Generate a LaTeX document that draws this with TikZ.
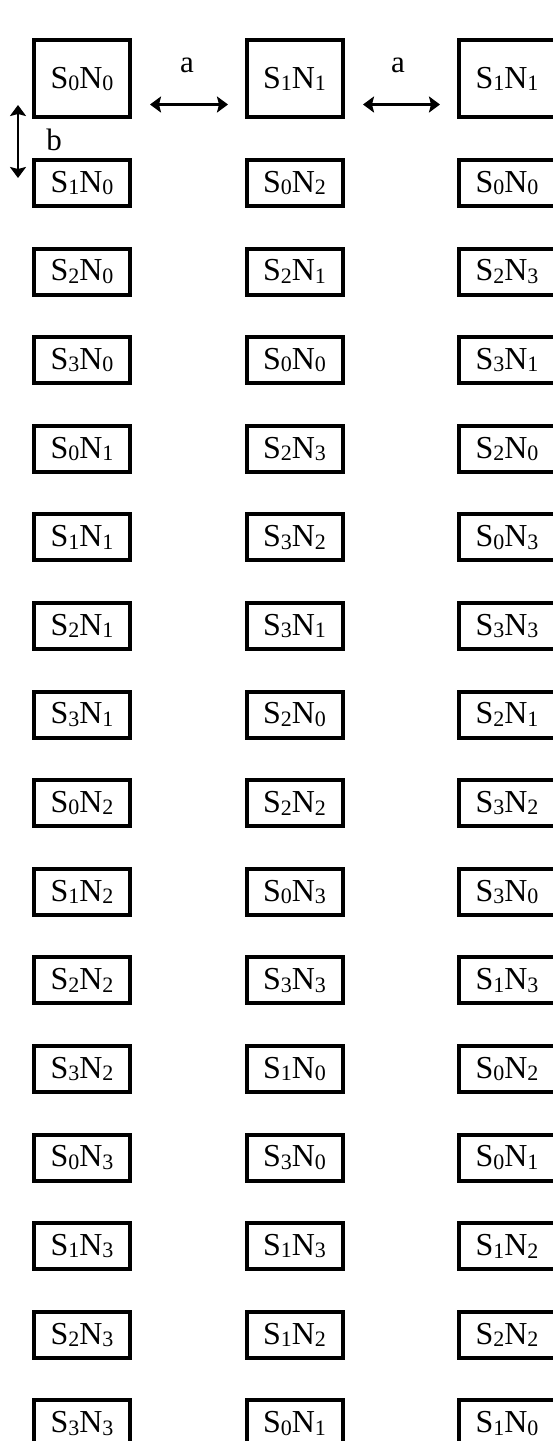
\documentclass[tikz,border=0pt]{standalone}
\usepackage{fontspec}
\setmainfont{Liberation Serif}
\usetikzlibrary{arrows.meta}
\newcommand{\snsub}[1]{\raisebox{-2.5pt}{\fontsize{22}{22}\selectfont #1}}
\newcommand{\snlab}[2]{S\snsub{#1}N\snsub{#2}}
\begin{document}
\begin{tikzpicture}[x=1pt,y=1pt,
  cell/.style={draw,line width=4pt,minimum width=96pt,minimum height=46pt,inner sep=0pt,font=\fontsize{32}{36}\selectfont},
  tallcell/.style={cell,minimum height=77pt,text depth=2pt},
  tip/.tip={Stealth[length=11pt,width=16pt,inset=2pt]},
  dbl/.style={tip-tip,line width=2.5pt},
  lab/.style={font=\fontsize{31}{36}\selectfont,inner sep=0pt}]
\useasboundingbox (0,0) rectangle (553,-1441);
% first row (tall boxes)
\node[tallcell] (c1r1) at (82,-78.5) {\snlab{0}{0}};
\node[tallcell] (c2r1) at (294.5,-78.5) {\snlab{1}{1}};
\node[tallcell] (c3r1) at (507,-78.5) {\snlab{1}{1}};
% column 1
\foreach [count=\r from 2] \p/\q in {1/0,2/0,3/0,0/1,1/1,2/1,3/1,0/2,1/2,2/2,3/2,0/3,1/3,2/3,3/3}{
  \node[cell] (c1r\r) at (82,{-(183+(\r-2)*88.6)}) {\snlab{\p}{\q}};
}
% column 2
\foreach [count=\r from 2] \p/\q in {0/2,2/1,0/0,2/3,3/2,3/1,2/0,2/2,0/3,3/3,1/0,3/0,1/3,1/2,0/1}{
  \node[cell] (c2r\r) at (294.5,{-(183+(\r-2)*88.6)}) {\snlab{\p}{\q}};
}
% column 3
\foreach [count=\r from 2] \p/\q in {0/0,2/3,3/1,2/0,0/3,3/3,2/1,3/2,3/0,1/3,0/2,0/1,1/2,2/2,1/0}{
  \node[cell] (c3r\r) at (507,{-(183+(\r-2)*88.6)}) {\snlab{\p}{\q}};
}
% arrows
\draw[dbl] ([shift={(18pt,-26pt)}]c1r1.east) -- ([shift={(-16.5pt,-26pt)}]c2r1.west);
\draw[dbl] ([shift={(18.5pt,-26pt)}]c2r1.east) -- ([shift={(-17pt,-26pt)}]c3r1.west);
\coordinate (bt) at (18,-105);
\coordinate (bb) at (18,-178);
\draw[dbl] (bt) -- (bb);
% labels
\node[lab] (la1) at (187,-65) {a};
\node[lab] (la2) at (398,-65) {a};
\node[lab] (lb) at (54,-140) {b};
\end{tikzpicture}
\end{document}
